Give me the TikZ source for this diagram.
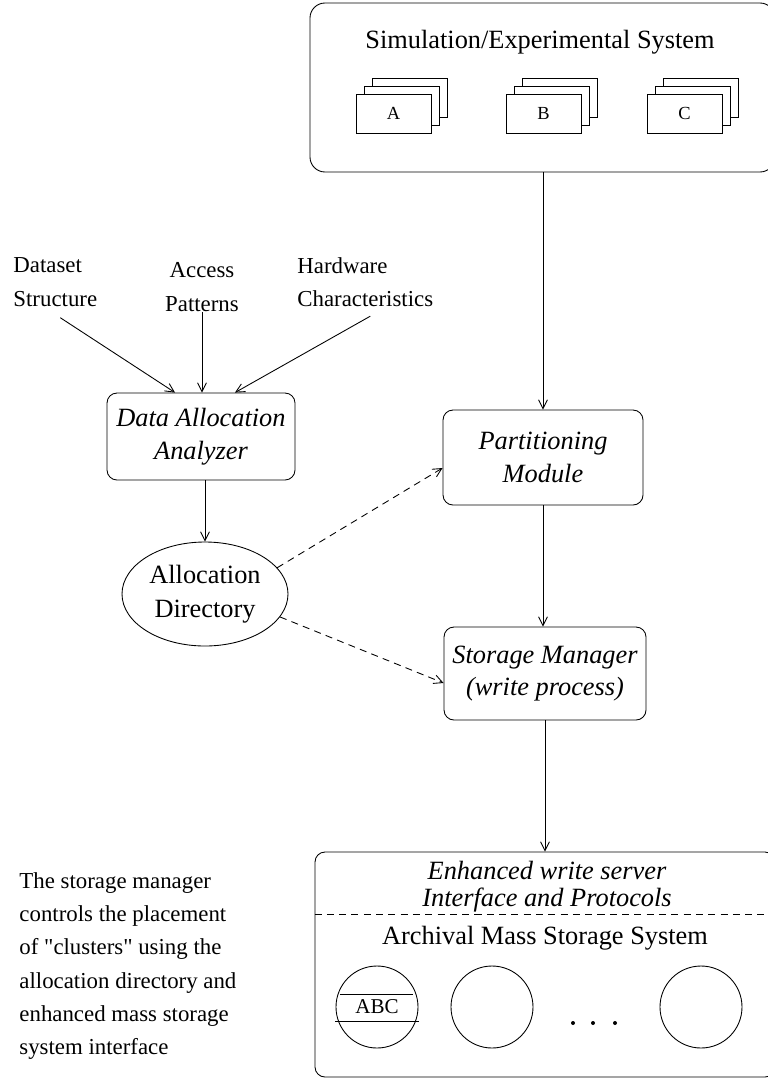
\documentclass[tikz,border=0pt]{standalone}
\usepackage{fontspec}
\setmainfont{Liberation Serif}
\usetikzlibrary{arrows.meta,positioning,shapes.geometric}

\begin{document}
\begin{tikzpicture}[line width=.5pt,every node/.style={font=\fontsize{15}{18.5}\selectfont},
  box/.style={draw,rounded corners=.2cm,align=center,font=\itshape\fontsize{15}{18.5}\selectfont},
  panel/.style={draw,rounded corners=.3cm},
  sheet/.style={draw,fill=white,minimum width=1.5cm,minimum height=.78cm,font=\fontsize{10.5}{12}\selectfont},
  disk/.style={draw,circle,minimum size=1.64cm,inner sep=0pt},
  lbl/.style={align=left,inner sep=0pt,font=\fontsize{13}{19}\selectfont},
  arr/.style={-{Straight Barb[length=5pt,width=5pt]}},
  dasharr/.style={arr,dash pattern=on 4pt off 3pt}]
\useasboundingbox (0,0) rectangle (15.36,-21.56);
% source system
\node[panel,minimum width=9.3cm,minimum height=3.38cm] (sys) at (10.85,-1.75) {};
\node (systitle) at (10.80,-0.84) {Simulation/Experimental System};
\foreach \n/\x in {A/7.87,B/10.87,C/13.69}{
  \node[sheet] (\n3) at (\x+0.32,-1.95) {};
  \node[sheet] (\n2) at (\x+0.16,-2.11) {};
  \node[sheet] (\n1) at (\x,-2.27) {\n};
}
% inputs to the analyzer
\node[lbl,anchor=west] (dset) at (0.26,-5.64) {Dataset\\Structure};
\node[lbl,align=center] (acc) at (4.04,-5.74) {Access\\Patterns};
\node[lbl,anchor=west] (hw) at (5.94,-5.64) {Hardware\\Characteristics};
\node[box,minimum width=3.76cm,minimum height=1.74cm] (daa) at (4.02,-8.73) {Data Allocation\\Analyzer};
\node[draw,ellipse,minimum width=3.32cm,minimum height=2.08cm,inner sep=0pt,align=center,font=\fontsize{15}{19}\selectfont] (dir) at (4.10,-11.88) {Allocation\\Directory};
\node[box,minimum width=4.0cm,minimum height=1.9cm] (part) at (10.86,-9.15) {Partitioning\\Module};
\node[box,minimum width=4.04cm,minimum height=1.86cm] (store) at (10.90,-13.47) {Storage Manager\\(write process)};
% archival store
\node[panel,rounded corners=.2cm,minimum width=9.2cm,minimum height=4.5cm] (arch) at (10.90,-19.29) {};
\node[align=center,font=\itshape\fontsize{15}{15.5}\selectfont] (srv) at (10.94,-17.73) {Enhanced write server\\Interface and Protocols};
\draw[dash pattern=on 4pt off 3pt] (arch.west |- 0,-18.28) -- (arch.east |- 0,-18.28);
\node (archtitle) at (10.90,-18.76) {Archival Mass Storage System};
\node[disk,font=\fontsize{12}{14}\selectfont] (disk1) at (7.54,-20.14) {ABC};
\node[disk] (disk2) at (9.84,-20.14) {};
\node[disk] (disk3) at (14.02,-20.14) {};
\draw (6.80,-19.88) -- (8.26,-19.88);
\draw (6.70,-20.42) -- (8.38,-20.42);
\fill (11.46,-20.46) circle (.04);
\fill (11.86,-20.46) circle (.04);
\fill (12.30,-20.46) circle (.04);
\node[lbl,anchor=west] (note) at (0.38,-19.32) {The storage manager\\controls the placement\\of \textquotedbl clusters\textquotedbl{} using the\\allocation directory and\\enhanced mass storage\\system interface};
% connectors
\draw[arr] ([shift={(0.1,-0.22)}]dset.south) -- ([xshift=-0.52cm]daa.north);
\draw[arr] (acc.south) -- (acc.south |- daa.north);
\draw[arr] ([shift={(0.1,-0.18)}]hw.south) -- ([xshift=0.68cm]daa.north);
\draw[arr] (daa.south -| dir.north) -- (dir.north);
\draw[arr] (part.north |- sys.south) -- (part.north);
\draw[arr] (part.south) -- (part.south |- store.north);
\draw[arr] (store.south) -- (store.south |- arch.north);
\draw[dasharr] (dir.20) -- ([yshift=-0.21cm]part.west);
\draw[dasharr] (dir.-17) -- ([yshift=-0.19cm]store.west);
\end{tikzpicture}
\end{document}
